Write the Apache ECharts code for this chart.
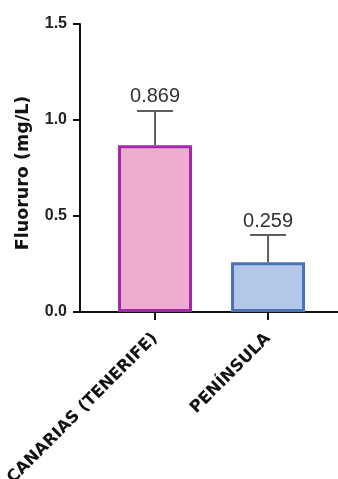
<!DOCTYPE html>
<html><head><meta charset="utf-8">
<script src="https://cdn.jsdelivr.net/npm/echarts@6/dist/echarts.min.js"></script>
<style>html,body{margin:0;padding:0;background:#fff}#c{width:338px;height:479px}</style>
</head><body><div id="c"></div>
<script>
var categories = ['CANARIAS (TENERIFE)', 'PENÍNSULA'];
var means = [0.869, 0.259];
var errors = [0.178, 0.142];
var valueLabels = ['0.869', '0.259'];
var fills = ['#EEADD0', '#B3C7E8'];
var borders = ['#A328A8', '#4C72B6'];

var chart = echarts.init(document.getElementById('c'), null, {renderer: 'canvas'});
var font = '"Liberation Sans", Arial, Helvetica, sans-serif';
var wide = '"DejaVu Sans", sans-serif';
chart.setOption({
  animation: false,
  grid: {left: 80, right: 0, top: 24, bottom: 167, containLabel: false, outerBoundsMode: 'none'},
  xAxis: {
    type: 'value', min: -0.664, max: 1.619,
    splitLine: {show: false},
    axisLine: {show: true, onZero: false, lineStyle: {color: '#111', width: 2}},
    axisTick: {show: true, customValues: [0, 1], length: 8, lineStyle: {color: '#111', width: 2}},
    axisLabel: {
      customValues: [0, 1], rotate: 45, fontSize: 16.5, fontWeight: 'bold', color: '#111',
      fontFamily: wide, margin: 24,
      formatter: function (v) { return categories[Math.round(v)]; }
    }
  },
  yAxis: {
    type: 'value', min: 0, max: 1.5, interval: 0.5,
    name: 'Fluoruro (mg/L)', nameLocation: 'middle', nameGap: 48,
    nameTextStyle: {fontSize: 17.5, fontWeight: 'bold', color: '#111', fontFamily: wide, padding: [0, 10, 0, 0]},
    splitLine: {show: false},
    axisLine: {show: true, onZero: false, lineStyle: {color: '#111', width: 2}},
    axisTick: {show: true, length: 7, lineStyle: {color: '#111', width: 2}},
    axisLabel: {fontSize: 16, fontWeight: 'bold', color: '#222', fontFamily: font, margin: 13,
      formatter: function (v) { return v.toFixed(1); }}
  },
  series: [
    {
      type: 'bar', barWidth: 74,
      data: means.map(function (m, i) {
        return {value: [i, m], itemStyle: {color: fills[i], borderColor: borders[i], borderWidth: 3}};
      }),
      z: 2
    },
    {
      type: 'custom', z: 1,
      data: means.map(function (m, i) { return [i, m, m + errors[i]]; }),
      renderItem: function (params, api) {
        var x = api.value(0);
        var base = api.coord([x, api.value(1)]);
        var top = api.coord([x, api.value(2)]);
        var hw = 18;
        return {
          type: 'group',
          children: [
            {type: 'line', shape: {x1: base[0], y1: base[1], x2: top[0], y2: top[1]},
              style: {stroke: '#5e5e5e', lineWidth: 2}},
            {type: 'line', shape: {x1: top[0] - hw, y1: top[1], x2: top[0] + hw, y2: top[1]},
              style: {stroke: '#5e5e5e', lineWidth: 2}},
            {type: 'text', style: {text: valueLabels[params.dataIndex], x: top[0], y: top[1] - 4,
              align: 'center', verticalAlign: 'bottom', fontSize: 20, fill: '#333', fontFamily: font}}
          ]
        };
      }
    }
  ]
});
</script></body></html>
